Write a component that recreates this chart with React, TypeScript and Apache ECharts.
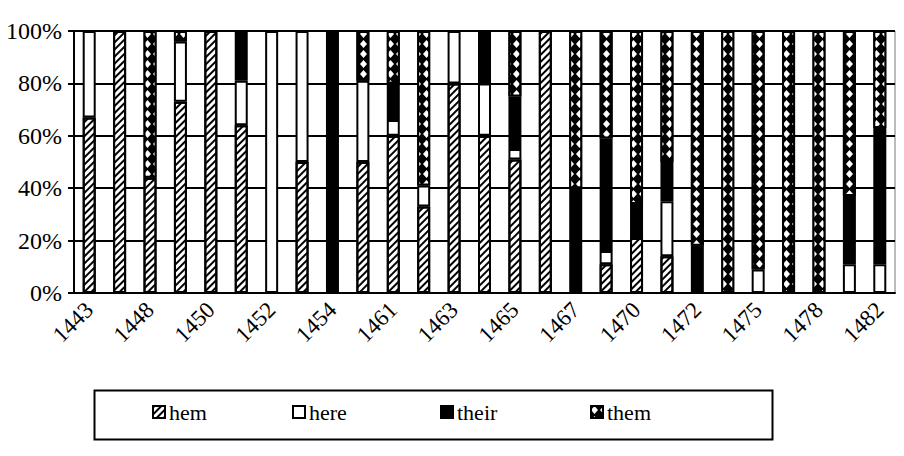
import { useEffect, useRef } from "react";
import * as echarts from "echarts";

const years = [
  "1443", "1446", "1448", "1449", "1450", "1451", "1452", "1453", "1454",
  "1459", "1461", "1462", "1463", "1464", "1465", "1466", "1467", "1469",
  "1470", "1471", "1472", "1474", "1475", "1477", "1478", "1480", "1482",
];
const seriesNames = ["hem", "here", "their", "them"];
const hem = [67, 100, 44, 73, 100, 64, 0, 50, 0, 50, 60, 33, 80, 60, 51, 100, 0, 11, 21, 14, 0, 0, 0, 0, 0, 0, 0];
const here = [33, 0, 0, 23, 0, 17, 100, 50, 0, 31, 6, 8, 20, 20, 4, 0, 0, 5, 0, 21, 0, 0, 9, 0, 0, 11, 11];
const their = [0, 0, 0, 0, 0, 19, 0, 0, 100, 0, 14, 0, 0, 20, 20, 0, 40, 43, 13, 15, 18, 0, 0, 0, 0, 26, 52];
const them = [0, 0, 56, 4, 0, 0, 0, 0, 0, 19, 20, 59, 0, 0, 25, 0, 60, 41, 66, 50, 82, 100, 91, 100, 100, 63, 37];

const FONT = "'Liberation Serif', 'Times New Roman', serif";
const legendLefts = [152, 292, 440, 590];

export default function App() {
  const ref = useRef<HTMLDivElement>(null);
  useEffect(() => {
    document.body.style.margin = "0";
    const chart = echarts.init(ref.current!, null, { renderer: "svg" });
    const prep = (arr: number[]) => arr.map((v) => (v === 0 ? "-" : v));
    const base = {
      type: "bar",
      stack: "total",
      barWidth: 13,
    };
    const legends = seriesNames.map((n, i) => ({
      left: legendLefts[i],
      top: 401,
      padding: 0,
      itemGap: 0,
      itemWidth: 12,
      itemHeight: 12,
      icon: "rect",
      textStyle: { fontFamily: FONT, fontSize: 22, color: "#000", padding: [0, 0, 0, -1] },
      data: [n],
    }));
    chart.setOption({
      animation: false,
      backgroundColor: "#fff",
      grid: {
        left: 74,
        right: 9,
        top: 31,
        bottom: 163,
        show: true,
        borderColor: "#777",
        borderWidth: 1,
      },
      graphic: [
        {
          type: "rect",
          left: 92,
          top: 388,
          shape: { width: 678, height: 49 },
          style: { fill: "none", stroke: "#000", lineWidth: 2 },
        },
      ],
      legend: legends,
      xAxis: {
        type: "category",
        data: years,
        axisLine: { lineStyle: { color: "#000", width: 2 } },
        axisTick: { interval: 0, length: 6, lineStyle: { color: "#000", width: 2 } },
        axisLabel: {
          interval: 1,
          rotate: 45,
          margin: 13,
          fontFamily: FONT,
          fontSize: 23,
          color: "#000",
        },
      },
      yAxis: {
        type: "value",
        min: 0,
        max: 100,
        interval: 20,
        axisLine: { show: true, lineStyle: { color: "#000", width: 2 } },
        axisTick: { show: true, length: 6, lineStyle: { color: "#000", width: 2 } },
        axisLabel: {
          formatter: "{value}%",
          margin: 12,
          fontFamily: FONT,
          fontSize: 24,
          color: "#000",
        },
        splitLine: { lineStyle: { color: "#000", width: 2 } },
      },
      series: [
        {
          ...base,
          name: "hem",
          data: prep(hem),
          itemStyle: {
            color: "#fff",
            borderColor: "#000",
            borderWidth: 2,
            decal: {
              symbol: "rect",
              symbolSize: 1,
              color: "#000",
              dashArrayX: [1, 0],
              dashArrayY: [2, 3],
              rotation: -Math.PI / 4,
            },
          },
        },
        {
          ...base,
          name: "here",
          data: prep(here),
          itemStyle: { color: "#fff", borderColor: "#000", borderWidth: 2 },
        },
        {
          ...base,
          name: "their",
          data: prep(their),
          itemStyle: { color: "#000", borderColor: "#000", borderWidth: 2 },
        },
        {
          ...base,
          name: "them",
          data: prep(them),
          itemStyle: {
            color: "#000",
            borderColor: "#000",
            borderWidth: 2,
            decal: {
              symbol: "diamond",
              symbolSize: 1,
              color: "#fff",
              dashArrayX: [7, 2],
              dashArrayY: [8, 2],
              rotation: 0,
            },
          },
        },
      ],
    });
    return () => chart.dispose();
  }, []);
  return <div ref={ref} style={{ width: 904, height: 456 }} />;
}
